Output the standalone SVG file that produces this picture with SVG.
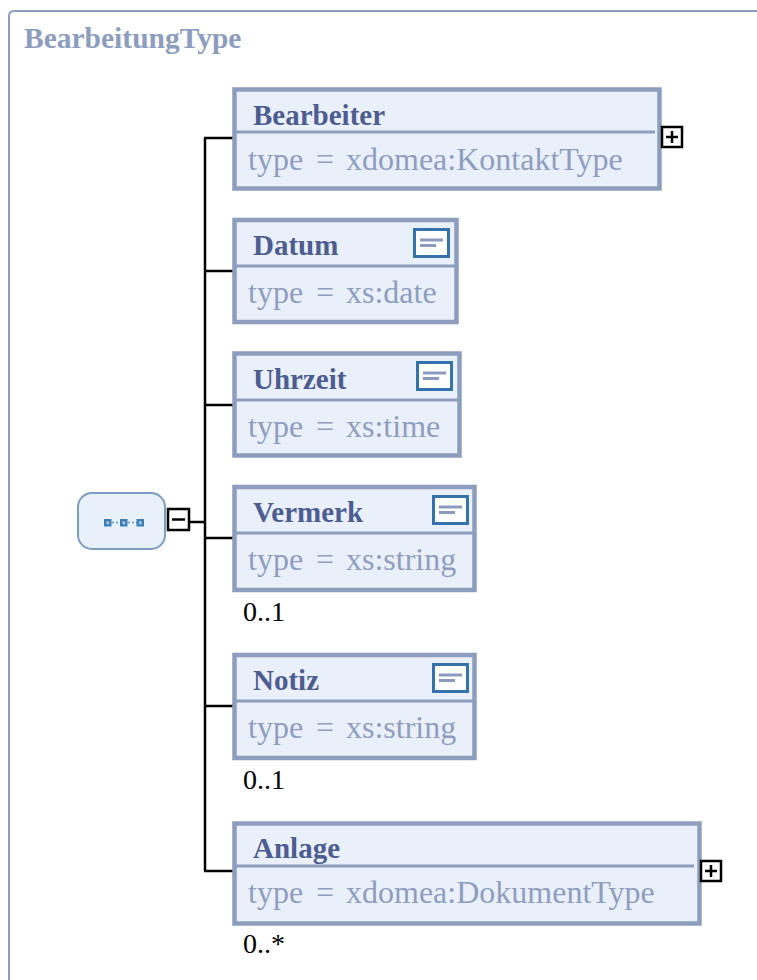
<svg xmlns="http://www.w3.org/2000/svg" width="757" height="980" viewBox="0 0 757 980">
<style>
.frame{fill:none;stroke:#8d9dbd;stroke-width:2}
.box{fill:#eaf0fa;stroke:#8d9dbd;stroke-width:4.5}
.div{stroke:#8d9dbd;stroke-width:3}
text{font-family:'Liberation Serif','Times New Roman',Times,'DejaVu Serif',serif}
.name{font-weight:bold;font-size:29px;fill:#4d5d91}
.type{font-size:32px;fill:#8e9ec0}
.card{font-size:28px;fill:#000}
.title{font-weight:bold;font-size:29.5px;fill:#8d9dbd}
.conn{fill:none;stroke:#000;stroke-width:2.5}
.pm{fill:#fff;stroke:#000;stroke-width:2.5}
.pmline{stroke:#000;stroke-width:2.5}
.ic{fill:#fff;stroke:#3472ab;stroke-width:3}
.icl{stroke:#8a9bbf;stroke-width:3}
</style>
<defs>
<g id="doc">
<rect class="ic" x="1.5" y="1.5" width="34" height="27"/>
<line class="icl" x1="7" y1="12" x2="30" y2="12"/>
<line class="icl" x1="7" y1="17.5" x2="23" y2="17.5"/>
</g>
<g id="plus">
<rect class="pm" x="0" y="0" width="20" height="20"/>
<line class="pmline" x1="4" y1="10" x2="16" y2="10"/>
<line class="pmline" x1="10" y1="4" x2="10" y2="16"/>
</g>
</defs>
<path class="frame" d="M9,990 V16 Q9,11 14,11 H770"/>
<text class="title" x="24" y="48">BearbeitungType</text>

<g id="connectors">
<line class="conn" x1="190" y1="522" x2="205" y2="522"/>
<line class="conn" x1="205" y1="138" x2="205" y2="871"/>
<line class="conn" x1="204" y1="138" x2="234" y2="138"/>
<line class="conn" x1="205" y1="271" x2="234" y2="271"/>
<line class="conn" x1="205" y1="405" x2="234" y2="405"/>
<line class="conn" x1="205" y1="538" x2="234" y2="538"/>
<line class="conn" x1="205" y1="706" x2="234" y2="706"/>
<line class="conn" x1="204" y1="871" x2="234" y2="871"/>
</g>

<g id="sequence">
<rect x="78" y="493" width="87" height="56" rx="14" fill="#e8f0f9" stroke="#7c9dc0" stroke-width="2"/>
<line x1="108" y1="522.5" x2="140" y2="522.5" stroke="#7fa3c8" stroke-width="2" stroke-dasharray="2,2"/>
<rect x="104" y="519" width="7.5" height="7.5" fill="#3c7fb5"/>
<rect x="120" y="519" width="7.5" height="7.5" fill="#3c7fb5"/>
<rect x="136.5" y="519" width="7.5" height="7.5" fill="#3c7fb5"/>
<rect x="106.3" y="521.3" width="3" height="3" fill="#9cc2e2"/>
<rect x="122.3" y="521.3" width="3" height="3" fill="#9cc2e2"/>
<rect x="138.8" y="521.3" width="3" height="3" fill="#9cc2e2"/>
<rect class="pm" x="168" y="509" width="21" height="21"/>
<line class="pmline" x1="172" y1="519.5" x2="185" y2="519.5"/>
</g>

<g id="Bearbeiter">
<rect class="box" x="234.5" y="89.5" width="425" height="99"/>
<line class="div" x1="236" y1="132" x2="655" y2="132"/>
<text class="name" x="253" y="125">Bearbeiter</text>
<text class="type" x="248" y="170">type</text>
<text class="type" x="316" y="170">=</text>
<text class="type" x="346" y="170">xdomea:KontaktType</text>
<use href="#plus" x="662" y="127"/>
</g>

<g id="Datum">
<rect class="box" x="234.5" y="220" width="222" height="102"/>
<line class="div" x1="236" y1="266" x2="455" y2="266"/>
<text class="name" x="253" y="255">Datum</text>
<text class="type" x="248" y="303">type</text>
<text class="type" x="316" y="303">=</text>
<text class="type" x="346" y="303">xs:date</text>
<use href="#doc" x="413" y="228"/>
</g>

<g id="Uhrzeit">
<rect class="box" x="234.5" y="353.5" width="225" height="102"/>
<line class="div" x1="236" y1="400" x2="458" y2="400"/>
<text class="name" x="253" y="389">Uhrzeit</text>
<text class="type" x="248" y="437">type</text>
<text class="type" x="316" y="437">=</text>
<text class="type" x="346" y="437">xs:time</text>
<use href="#doc" x="416" y="361"/>
</g>

<g id="Vermerk">
<rect class="box" x="234.5" y="487" width="240" height="103"/>
<line class="div" x1="236" y1="533" x2="473" y2="533"/>
<text class="name" x="253" y="522">Vermerk</text>
<text class="type" x="248" y="570">type</text>
<text class="type" x="316" y="570">=</text>
<text class="type" x="346" y="570">xs:string</text>
<use href="#doc" x="432" y="495"/>
<text class="card" x="243" y="621">0..1</text>
</g>

<g id="Notiz">
<rect class="box" x="234.5" y="655" width="240" height="103"/>
<line class="div" x1="236" y1="701" x2="473" y2="701"/>
<text class="name" x="253" y="690">Notiz</text>
<text class="type" x="248" y="738">type</text>
<text class="type" x="316" y="738">=</text>
<text class="type" x="346" y="738">xs:string</text>
<use href="#doc" x="432" y="663"/>
<text class="card" x="243" y="789">0..1</text>
</g>

<g id="Anlage">
<rect class="box" x="234.5" y="823.5" width="465" height="100"/>
<line class="div" x1="236" y1="866" x2="694" y2="866"/>
<text class="name" x="253" y="858">Anlage</text>
<text class="type" x="248" y="903">type</text>
<text class="type" x="316" y="903">=</text>
<text class="type" x="346" y="903">xdomea:DokumentType</text>
<use href="#plus" x="701" y="861"/>
<text class="card" x="243" y="953">0..*</text>
</g>
</svg>
